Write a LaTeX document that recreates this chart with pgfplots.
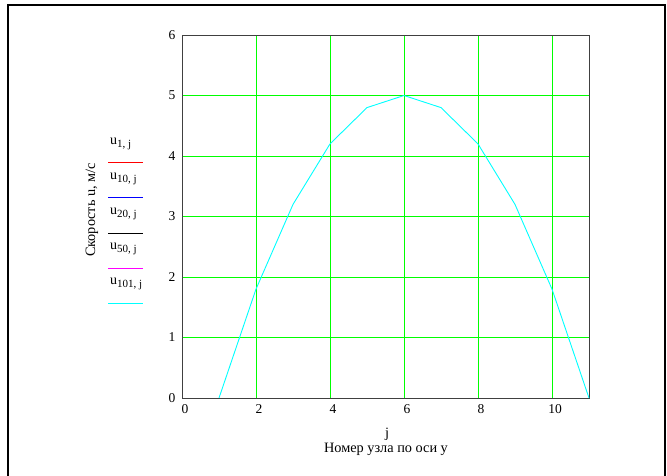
\documentclass[border=0pt]{standalone}
\usepackage{pgfplots}
\pgfplotsset{compat=1.18}
\usepackage{fontspec}
\setmainfont{Liberation Serif}
\definecolor{mgreen}{RGB}{0,255,0}
\definecolor{mcyan}{RGB}{0,255,255}
\definecolor{mmag}{RGB}{255,0,255}
\newcommand{\sub}[1]{\raisebox{-2.5pt}{\fontsize{11}{11}\selectfont #1}}
\begin{document}
\fontsize{13.3}{16}\selectfont
\begin{tikzpicture}[x=1pt,y=1pt]
\useasboundingbox (0,0) rectangle (667,475);
\draw[line width=2.6pt] (8,-5) -- (8,470) -- (665,470) -- (665,-5);
\begin{axis}[
  at={(182pt,77pt)}, anchor=south west,
  scale only axis, width=407pt, height=363pt,
  xmin=0, xmax=11, ymin=0, ymax=6,
  xtick={0,2,4,6,8,10}, ytick={0,1,2,3,4,5,6},
  major tick length=0pt,
  grid=major,
  major grid style={mgreen, line width=0.9pt},
  axis line style={black!75, line width=1pt},
  tick label style={font=\fontsize{13.5}{16}\selectfont},
  /pgf/number format/assume math mode=true,
  xticklabel style={yshift=-2pt, xshift=3pt},
  yticklabel style={xshift=-2pt},
  clip=false,
]
\addplot[mcyan, line width=0.9pt] coordinates {
 (1,0) (2,1.8) (3,3.2) (4,4.2) (5,4.8) (6,5) (7,4.8) (8,4.2) (9,3.2) (10,1.8) (11,0)
};
\end{axis}
% legend
\begin{scope}[every node/.style={anchor=west, inner sep=0, font=\fontsize{14}{16}\selectfont}]
\node at (110,475-144) {u\sub{1, j}};
\node at (110,475-179) {u\sub{10, j}};
\node at (110,475-214) {u\sub{20, j}};
\node at (110,475-249) {u\sub{50, j}};
\node at (110,475-284) {u\sub{101, j}};
\end{scope}
\draw[red, line width=1pt] (108,475-162) -- (143,475-162);
\draw[blue, line width=1pt] (108,475-197) -- (143,475-197);
\draw[black, line width=1pt] (108,475-233) -- (143,475-233);
\draw[mmag, line width=1pt] (108,475-268) -- (143,475-268);
\draw[mcyan, line width=1pt] (108,475-303) -- (143,475-303);
% axis labels
\node[rotate=90, inner sep=0, font=\fontsize{14.3}{16}\selectfont] at (92,475-210) {Скорость u, м/с};
\node[inner sep=0, font=\fontsize{14.3}{16}\selectfont] at (387,475-434) {j};
\node[inner sep=0, font=\fontsize{14.3}{16}\selectfont] at (386,475-449) {Номер узла по оси y};
\end{tikzpicture}
\end{document}
